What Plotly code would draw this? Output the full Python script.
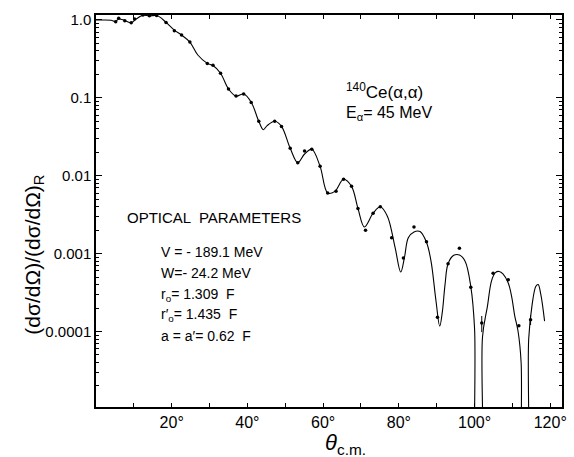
import plotly.graph_objects as go

# Optical-model curve (theta c.m. in degrees, ratio to Rutherford)
curve_theta = [0, 2, 4, 5.2, 6, 7.5, 9.3, 10.5, 12.4, 14, 16, 17, 18.5, 20.7, 22.6, 24.8,
               26.9, 29.4, 30.9, 32.9, 35, 37, 39, 41, 43, 44.2, 45.2, 47.2, 49, 51.3,
               53.3, 55.1, 57, 59.2, 61.2, 63.1, 65.4, 67.5, 69.2, 70.9, 73.2, 75.1, 77,
               79, 80.5, 81.5, 82.5, 84, 85.6, 87.3, 88.5, 89.8, 90.8, 91.5, 92.2, 93,
               94.5, 96, 97.5, 99, 100, 100.9, 101.8, 102.1, 103.4, 104.5, 105.5, 106.5,
               107.5, 108.9, 109.8, 110.6, 111.5, 112.3, 113.0, 113.7, 114.3, 115.2,
               116.2, 116.8, 117.5, 118.5]
curve_ratio = [1.0, 1.0, 0.99, 0.96, 1.03, 0.99, 0.92, 1.02, 1.15, 1.13, 1.14, 1.08, 0.93,
               0.74, 0.64, 0.52, 0.355, 0.277, 0.26, 0.207, 0.13, 0.105, 0.112, 0.088,
               0.050, 0.039, 0.044, 0.050, 0.043, 0.0225, 0.0147, 0.019, 0.0219, 0.0132,
               0.006, 0.0063, 0.0090, 0.0073, 0.0038, 0.0022, 0.0033, 0.0040, 0.0030,
               0.0012, 0.00058, 0.0009, 0.0016, 0.0019, 0.00192, 0.0014, 0.0008, 0.00025,
               0.000117, 0.00018, 0.0004, 0.00074, 0.00095, 0.00096, 0.0008, 0.00038,
               0.00011, 1e-7, 1e-7, 0.000085, 0.00021, 0.00045, 0.00057, 0.00059, 0.00055,
               0.00042, 0.00028, 0.00016, 0.0001, 0.00004, 1e-7, 1e-7, 0.00008, 0.00022,
               0.00038, 0.0004, 0.0003, 0.000136]

# Measured points
data_theta = [5.2, 6, 7.6, 9.3, 10.2, 12.4, 14.1, 16, 18.5, 20.7, 22.6, 24.8, 29.4, 30.9,
              32.9, 35, 37, 39, 41, 43, 47.2, 49, 51.3, 53.3, 55.1, 57, 59.2, 61.2, 63.4,
              65.4, 67.5, 69.2, 71.2, 73.2, 75.1, 78.1, 81.2, 84, 87.3, 90.2, 93, 96, 99,
              101.9, 104.9, 108.9, 111.7, 114.8]
data_ratio = [0.95, 1.05, 0.98, 0.92, 1.03, 1.16, 1.13, 1.14, 0.93, 0.73, 0.64, 0.52, 0.277,
              0.262, 0.207, 0.13, 0.106, 0.112, 0.087, 0.050, 0.050, 0.043, 0.0225, 0.0147,
              0.0207, 0.0219, 0.0132, 0.0060, 0.0063, 0.0090, 0.0073, 0.0038, 0.0020,
              0.0033, 0.0040, 0.0016, 0.00088, 0.0022, 0.00142, 0.000152, 0.00074,
              0.00117, 0.00037, 0.000128, 0.00056, 0.00046, 0.000118, 0.000141]
data_err = [0]*43 + [0.00003, 0, 0, 0, 0.00002]

x_ticks = [20, 40, 60, 80, 100, 120]
x_ticktext = ["20°", "40°", "60°", "80°", "100°", "120°"]
x_minor = [10, 30, 50, 70, 90, 110]
y_ticks = [1.0, 0.1, 0.01, 0.001, 0.0001]
y_ticktext = ["1.0", "0.1", "0.01", "0.001", "0.0001"]
y_minor = [m * 10.0 ** e for e in range(-5, 1) for m in range(2, 10)]

FONT = "Liberation Sans"

fig = go.Figure()
fig.add_trace(go.Scatter(x=curve_theta, y=curve_ratio, mode="lines",
                         line=dict(color="black", width=1.1, shape="spline", smoothing=1.0),
                         hoverinfo="skip", showlegend=False))
fig.add_trace(go.Scatter(x=data_theta, y=data_ratio, mode="markers",
                         marker=dict(color="black", size=3.5),
                         error_y=dict(type="data", array=data_err, color="black",
                                      thickness=1, width=0),
                         showlegend=False))

fig.update_layout(
    width=574, height=457,
    margin=dict(l=96, r=7, t=15, b=50),
    paper_bgcolor="white", plot_bgcolor="white",
    font=dict(family=FONT, color="black", size=13),
    xaxis=dict(range=[0, 123.1], tickmode="array", tickvals=x_ticks, ticktext=x_ticktext,
               ticks="inside", ticklen=4, tickcolor="black", showgrid=False, zeroline=False,
               showline=True, linecolor="black", linewidth=1.5, mirror="ticks",
               tickfont=dict(size=16, family=FONT),
               minor=dict(ticks="inside", ticklen=4, tickmode="array", tickvals=x_minor,
                          tickcolor="black", showgrid=False)),
    yaxis=dict(type="log", range=[-4.97, 0.064], tickmode="array", tickvals=y_ticks,
               ticktext=y_ticktext, ticks="inside", ticklen=6, tickcolor="black",
               showgrid=False, zeroline=False, showline=True, linecolor="black",
               linewidth=1.5, mirror="ticks", tickfont=dict(size=15, family=FONT),
               minor=dict(ticks="inside", ticklen=3, tickmode="array", tickvals=y_minor,
                          tickcolor="black", showgrid=False)),
)

ann = [
    dict(text="(dσ/dΩ)/(dσ/dΩ)<sub>R</sub>", x=-(96 - 33) / 471, y=0.5 - (255 - 211) / 392,
         textangle=-90, font=dict(size=21)),
    dict(text="<i>θ</i><sub>c.m.</sub>", x=(348 - 96) / 471, y=-(444 - 407) / 392,
         font=dict(size=22)),
    dict(text="<sup>140</sup>Ce(α,α)", x=(347 - 96) / 471, y=(407 - 91) / 392,
         xanchor="left", font=dict(size=17)),
    dict(text="E<sub>α</sub>= 45 MeV", x=(347 - 96) / 471, y=(407 - 114) / 392,
         xanchor="left", font=dict(size=16)),
    dict(text="OPTICAL  PARAMETERS", x=(125 - 96) / 471, y=(407 - 218) / 392,
         xanchor="left", font=dict(size=15)),
    dict(text="V = - 189.1 MeV", x=(160 - 96) / 471, y=(407 - 252) / 392,
         xanchor="left", font=dict(size=14)),
    dict(text="W=- 24.2 MeV", x=(160 - 96) / 471, y=(407 - 273) / 392,
         xanchor="left", font=dict(size=14)),
    dict(text="r<sub>o</sub>= 1.309  F", x=(160 - 96) / 471, y=(407 - 295) / 392,
         xanchor="left", font=dict(size=14)),
    dict(text="r′<sub>o</sub>= 1.435  F", x=(160 - 96) / 471, y=(407 - 315) / 392,
         xanchor="left", font=dict(size=14)),
    dict(text="a = a′= 0.62  F", x=(160 - 96) / 471, y=(407 - 336) / 392,
         xanchor="left", font=dict(size=14)),
]
for a in ann:
    a.update(xref="paper", yref="paper", showarrow=False)
    a.setdefault("xanchor", "center")
    a.setdefault("yanchor", "middle")
fig.update_layout(annotations=ann)

fig.write_html("out.html")
